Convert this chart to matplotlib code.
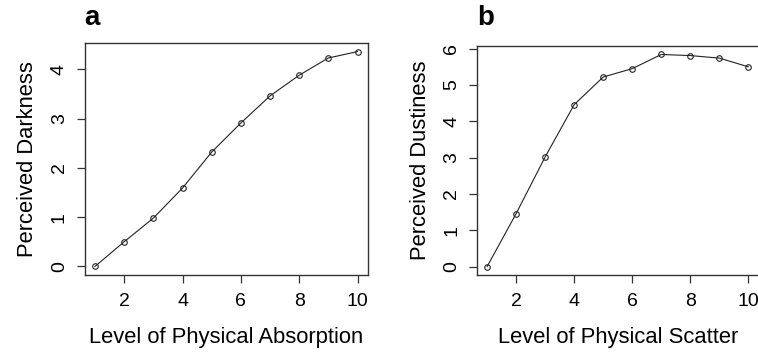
import numpy as np
import matplotlib
matplotlib.use("Agg")
import matplotlib.pyplot as plt

plt.rcParams['font.family'] = ['Liberation Sans', 'DejaVu Sans']

# panel a: absorption vs perceived darkness
absorption_level = [1, 2, 3, 4, 5, 6, 7, 8, 9, 10]
darkness = [0.0, 0.50, 0.98, 1.59, 2.32, 2.91, 3.46, 3.88, 4.23, 4.36]

# panel b: scatter vs perceived dustiness
scatter_level = [1, 2, 3, 4, 5, 6, 7, 8, 9, 10]
dustiness = [0.0, 1.46, 3.02, 4.46, 5.22, 5.45, 5.84, 5.81, 5.74, 5.50]

x_ticks = [2, 4, 6, 8, 10]
a_yticks = [0, 1, 2, 3, 4]
b_yticks = [0, 1, 2, 3, 4, 5, 6]

W, H = 758, 352
fig = plt.figure(figsize=(W/100, H/100), dpi=100)

def px_axes(l, t, r, b):
    return fig.add_axes([l/W, 1 - b/H, (r - l)/W, (b - t)/H])

def rlim(v):
    # R-style 4% padding
    lo, hi = min(v), max(v)
    d = (hi - lo) * 0.04
    return lo - d, hi + d

def style(ax, x, y, xt, yt, xlab, ylab):
    ax.plot(x, y, color='#222222', lw=0.8, marker='o', ms=4.0,
            mfc='none', mec='#222222', mew=0.8)
    ax.set_xlim(rlim(x))
    ax.set_ylim(rlim(y))
    ax.set_xticks(xt)
    ax.set_yticks(yt)
    for s in ax.spines.values():
        s.set_color('#333333')
        s.set_linewidth(1.0)
    ax.tick_params(length=6, width=0.9, color='#333333', labelsize=14, pad=7)
    ax.tick_params(axis='y', labelrotation=90, pad=6)
    for lab in ax.get_yticklabels():
        lab.set_va('center')
    ax.set_xlabel(xlab, fontsize=15.8, labelpad=12)
    ax.set_ylabel(ylab, fontsize=15.8, labelpad=9)

ax1 = px_axes(84.5, 43, 368, 275)
style(ax1, absorption_level, darkness, x_ticks, a_yticks,
      'Level of Physical Absorption', 'Perceived Darkness')

ax2 = px_axes(476.7, 46, 758.8, 275)
style(ax2, scatter_level, dustiness, x_ticks, b_yticks,
      'Level of Physical Scatter', 'Perceived Dustiness')

fig.text(84/W, 1 - 25/H, 'a', fontsize=20, fontweight='bold', va='baseline')
fig.text(477/W, 1 - 25/H, 'b', fontsize=20, fontweight='bold', va='baseline')

fig.savefig('out.png', dpi=100)
